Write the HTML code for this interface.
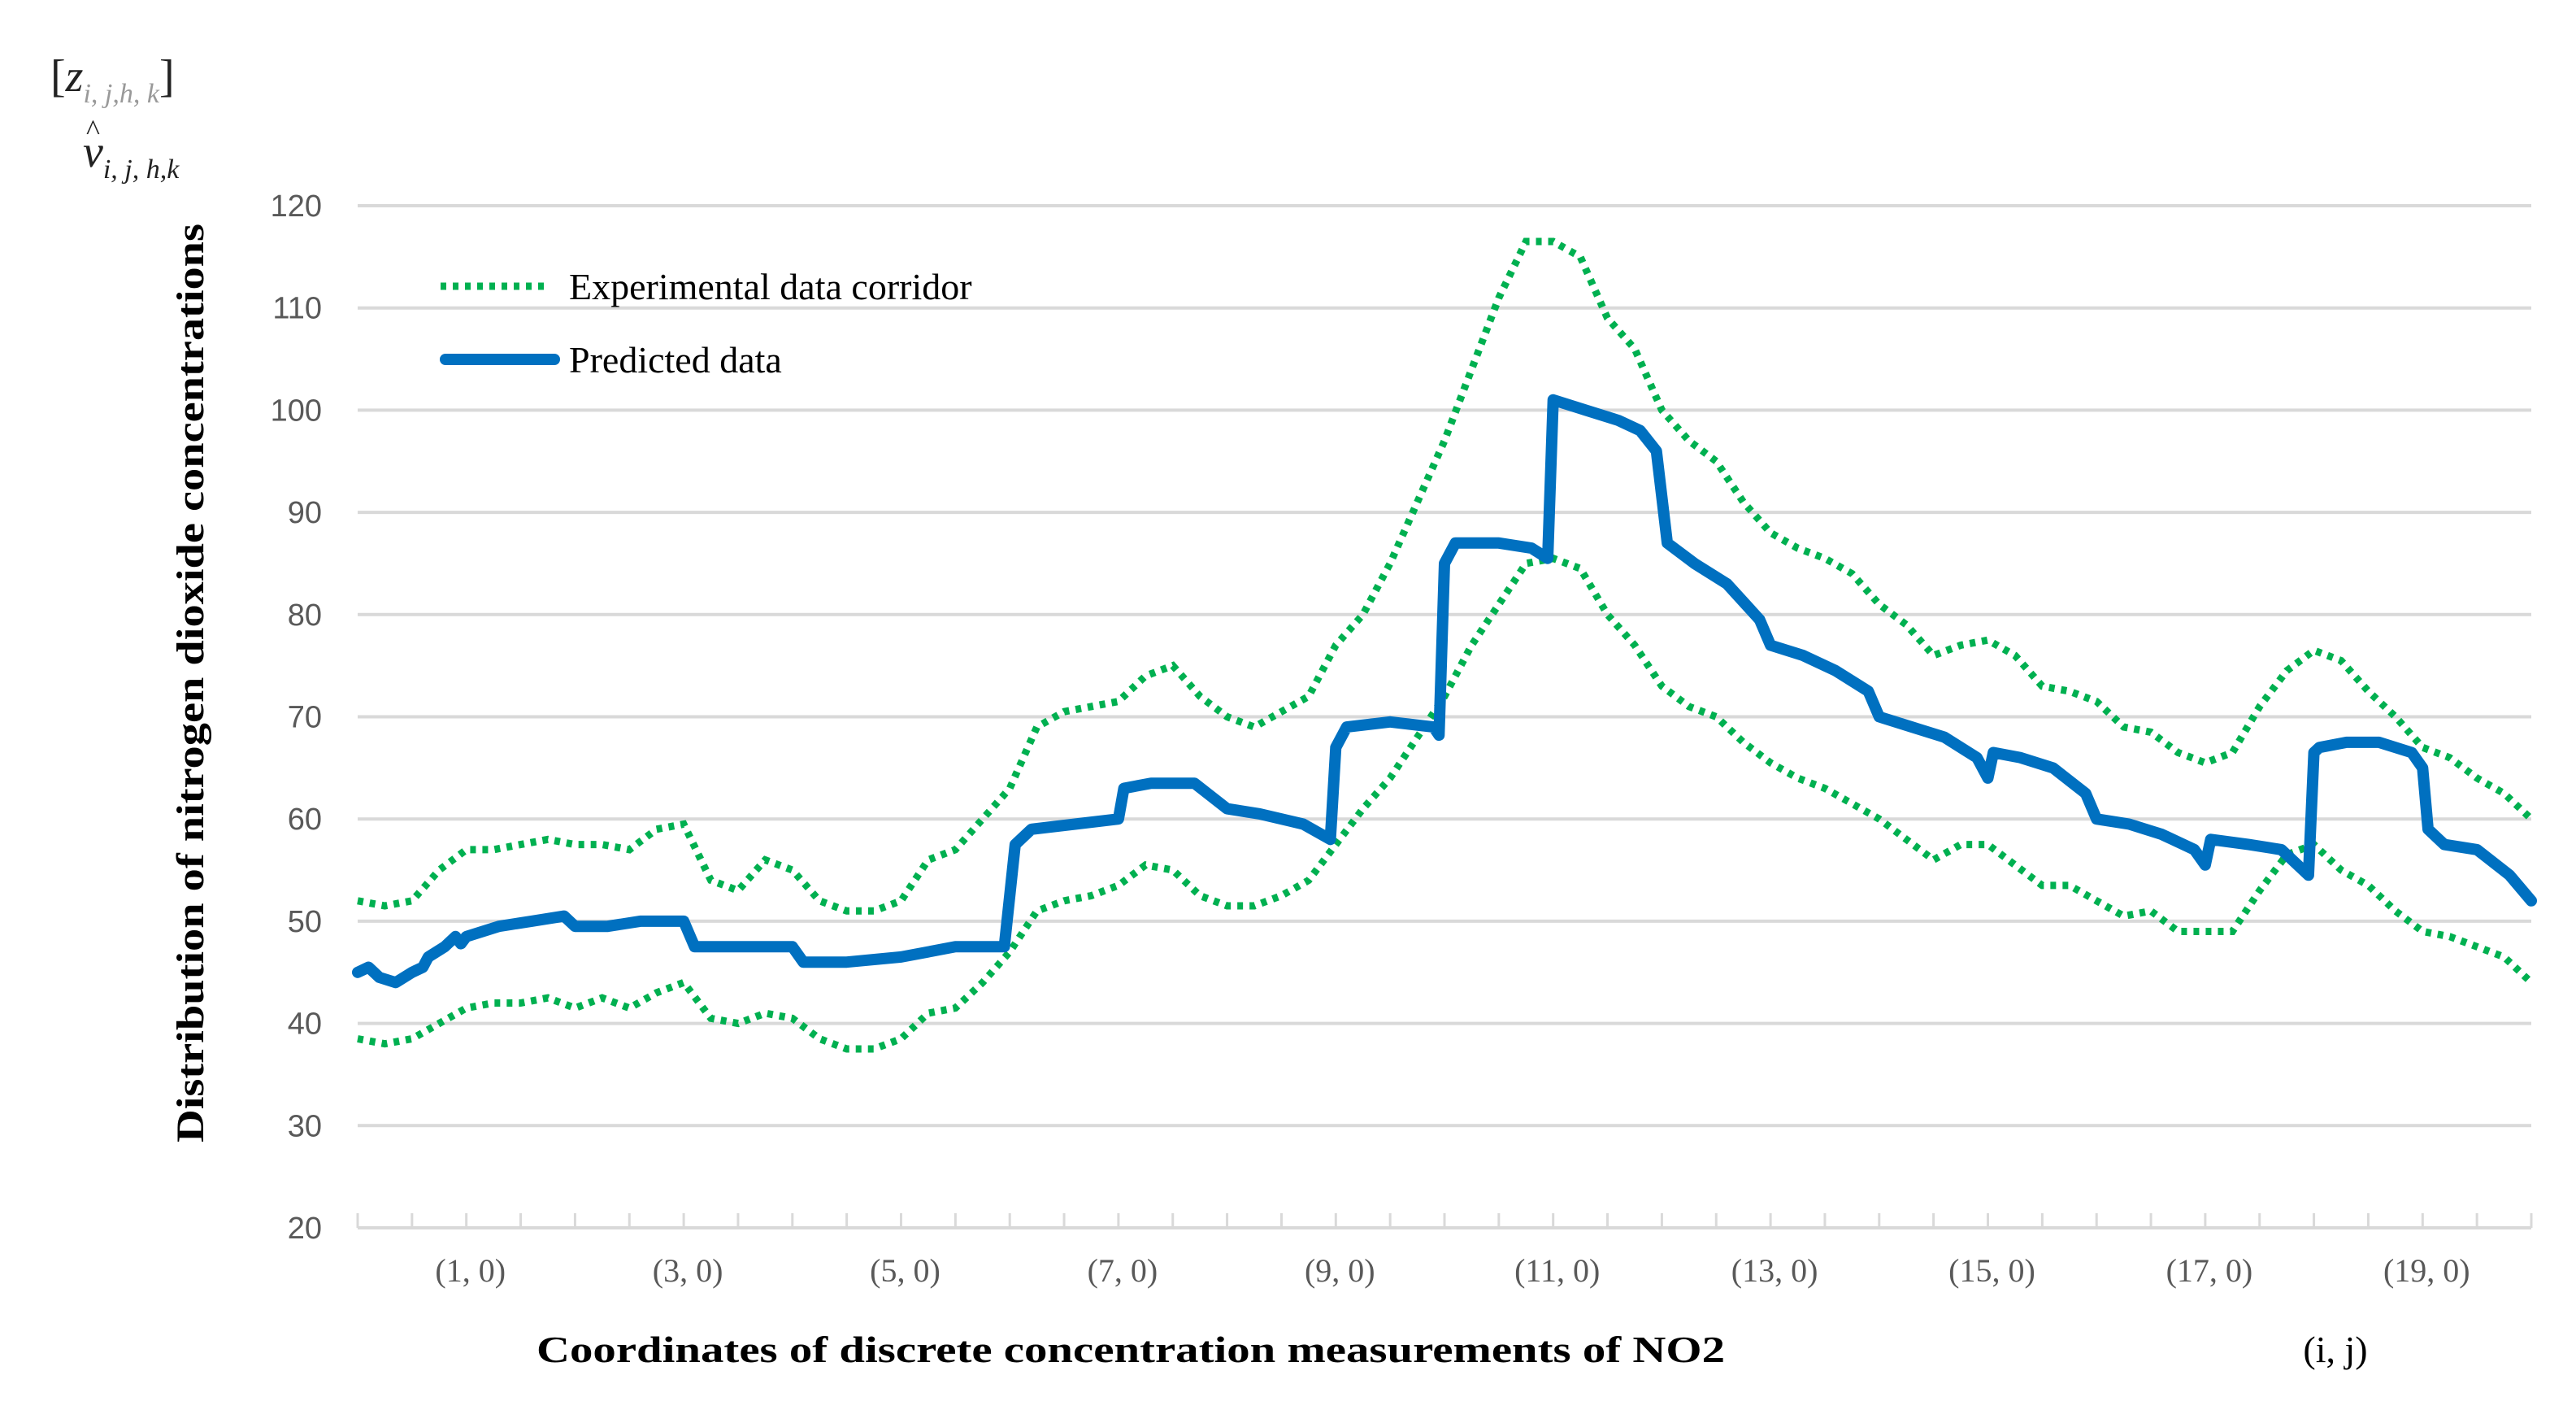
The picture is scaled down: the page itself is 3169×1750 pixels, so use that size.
<!DOCTYPE html>
<html><head><meta charset="utf-8"><style>
html,body{margin:0;padding:0;background:#fff;}
svg{display:block;}
</style></head><body>
<svg id="chart" width="3169" height="1750" viewBox="0 0 3169 1750" xmlns="http://www.w3.org/2000/svg" font-family="'Liberation Serif', serif">
<g id="grid"></g>
<g id="yticks"></g>
<g id="xticks"></g>
<g id="xlabels"></g>
<g id="series"></g>
<text transform="translate(250,840) rotate(-90)" text-anchor="middle" font-weight="bold" font-size="48" textLength="1130" lengthAdjust="spacingAndGlyphs" fill="#000">Distribution of nitrogen dioxide concentrations</text>
<text x="660" y="1675" font-weight="bold" font-size="46" textLength="1462" lengthAdjust="spacingAndGlyphs" fill="#000">Coordinates of discrete concentration measurements of NO2</text>
<text x="2873" y="1675" text-anchor="middle" font-size="46" fill="#000">(i, j)</text>
<g font-size="56">
<text x="62" y="112" fill="#222">[<tspan font-style="italic">z</tspan><tspan font-style="italic" font-size="34" dy="14" fill="#999">i, j,h, k</tspan><tspan dy="-14">]</tspan></text>
<text x="102" y="205" font-style="italic" fill="#222">v<tspan font-size="34" dy="14">i, j, h,k</tspan></text>
<text x="106" y="172" font-size="36" fill="#222">^</text>
</g>
<g>
<line x1="542" y1="352" x2="672" y2="352" stroke="#00b050" stroke-width="9" stroke-dasharray="7,8"/>
<text x="700" y="368" font-size="46" fill="#000">Experimental data corridor</text>
<line x1="548" y1="442" x2="682" y2="442" stroke="#0070c0" stroke-width="14" stroke-linecap="round"/>
<text x="700" y="458" font-size="46" fill="#000">Predicted data</text>
</g>
</svg>
<script>
const yTicks=[20,30,40,50,60,70,80,90,100,110,120];
const xLabelPos=[1,3,5,7,9,11,13,15,17,19];
const xLabelText=["(1, 0)","(3, 0)","(5, 0)","(7, 0)","(9, 0)","(11, 0)","(13, 0)","(15, 0)","(17, 0)","(19, 0)"];
const corridorX=[0,0.25,0.5,0.75,1,1.25,1.5,1.75,2,2.25,2.5,2.75,3,3.25,3.5,3.75,4,4.25,4.5,4.75,5,5.25,5.5,5.75,6,6.25,6.5,6.75,7,7.25,7.5,7.75,8,8.25,8.5,8.75,9,9.25,9.5,9.75,10,10.25,10.5,10.75,11,11.25,11.5,11.75,12,12.25,12.5,12.75,13,13.25,13.5,13.75,14,14.25,14.5,14.75,15,15.25,15.5,15.75,16,16.25,16.5,16.75,17,17.25,17.5,17.75,18,18.25,18.5,18.75,19,19.25,19.5,19.75,20];
const upperY=[52,51.5,52,55,57,57,57.5,58,57.5,57.5,57,59,59.5,54,53,56,55,52,51,51,52,56,57,60,63,69,70.5,71,71.5,74,75,72,70,69,70.5,72,77,80,85,91,97,104,111,116.5,116.5,115,109,106,100,97,95,91,88,86.5,85.5,84,81,79,76,77,77.5,76,73,72.5,71.5,69,68.5,66.5,65.5,66.5,71,74.5,76.5,75.5,72.5,70,67,66,64,62.5,60];
const lowerY=[38.5,38,38.5,40,41.5,42,42,42.5,41.5,42.5,41.5,43,44,40.5,40,41,40.5,38.5,37.5,37.5,38.5,41,41.5,44,47,51,52,52.5,53.5,55.5,55,52.5,51.5,51.5,52.5,54,57.5,61,64,68,72,77,81,85,85.5,84.5,80,77,73,71,70,67.5,65.5,64,63,61.5,60,58,56,57.5,57.5,55.5,53.5,53.5,52,50.5,51,49,49,49,53,56.5,57.5,55,53.5,51,49,48.5,47.5,46.5,44];
const predX=[0,0.1,0.2,0.35,0.5,0.6,0.65,0.8,0.9,0.95,1.0,1.3,1.6,1.9,2.0,2.3,2.6,3.0,3.1,3.3,4.0,4.1,4.5,5.0,5.5,5.95,6.05,6.2,6.6,7.0,7.05,7.3,7.7,8.0,8.3,8.7,8.95,9.0,9.1,9.5,9.9,9.95,10.0,10.1,10.5,10.8,10.95,11.0,11.3,11.6,11.8,11.95,12.05,12.3,12.6,12.9,13.0,13.3,13.6,13.9,14.0,14.3,14.6,14.9,15.0,15.05,15.3,15.6,15.9,16.0,16.3,16.6,16.9,17.0,17.05,17.4,17.7,17.95,18.0,18.05,18.3,18.6,18.9,19.0,19.05,19.2,19.5,19.8,20];
const predY=[45,45.5,44.5,44,45,45.5,46.5,47.5,48.5,47.8,48.5,49.5,50,50.5,49.5,49.5,50,50,47.5,47.5,47.5,46,46,46.5,47.5,47.5,57.5,59,59.5,60,63,63.5,63.5,61,60.5,59.5,58,67,69,69.5,69,68.2,85,87,87,86.5,85.5,101,100,99,98,96,87,85,83,79.5,77,76,74.5,72.5,70,69,68,66,64,66.5,66,65,62.5,60,59.5,58.5,57,55.5,58,57.5,57,54.5,66.5,67,67.5,67.5,66.5,65,59,57.5,57,54.5,52];

const NS="http://www.w3.org/2000/svg";
const X0=440,X1=3114,Y0=1510,Y1=253;
function sx(v){return X0+(v-0)/(20-0)*(X1-X0);}
function sy(v){return Y0-(v-20)/(120-20)*(Y0-Y1);}
function mk(tag,attrs,parent){const e=document.createElementNS(NS,tag);for(const k in attrs)e.setAttribute(k,attrs[k]);parent.appendChild(e);return e;}

const grid=document.getElementById('grid'),yt=document.getElementById('yticks');
yTicks.forEach(v=>{
  const l=mk('line',{x1:X0,x2:X1,y1:sy(v),y2:sy(v),stroke:'#d9d9d9','stroke-width':4},grid);
  
  
  const t=mk('text',{x:396,y:sy(v)+13,'text-anchor':'end','font-size':38,fill:'#595959','font-family':"'Liberation Sans', sans-serif"},yt);
  t.textContent=v;
  
  
});
const xt=document.getElementById('xticks');
for(let i=0;i<=40;i++){
  const x=sx(i*0.5);
  const l=mk('line',{x1:x,x2:x,y1:Y0-18,y2:Y0,stroke:'#d9d9d9','stroke-width':3},xt);
  
  
}
const xl=document.getElementById('xlabels');
xLabelPos.forEach((p,i)=>{
  const t=mk('text',{x:sx(p)+5,y:1576,'text-anchor':'middle','font-size':40,fill:'#595959'},xl);
  t.textContent=xLabelText[i];
  
  
});
const sg=document.getElementById('series');
function pts(xs,ys){return xs.map((x,i)=>sx(x).toFixed(1)+','+sy(ys[i]).toFixed(1)).join(' ');}
const up=mk('polyline',{points:pts(corridorX,upperY),fill:'none',stroke:'#00b050','stroke-width':9,'stroke-dasharray':'7,8'},sg);


const lo=mk('polyline',{points:pts(corridorX,lowerY),fill:'none',stroke:'#00b050','stroke-width':9,'stroke-dasharray':'7,8'},sg);


const pr=mk('polyline',{points:pts(predX,predY),fill:'none',stroke:'#0070c0','stroke-width':14,'stroke-linejoin':'round','stroke-linecap':'round'},sg);


</script>
</body></html>
